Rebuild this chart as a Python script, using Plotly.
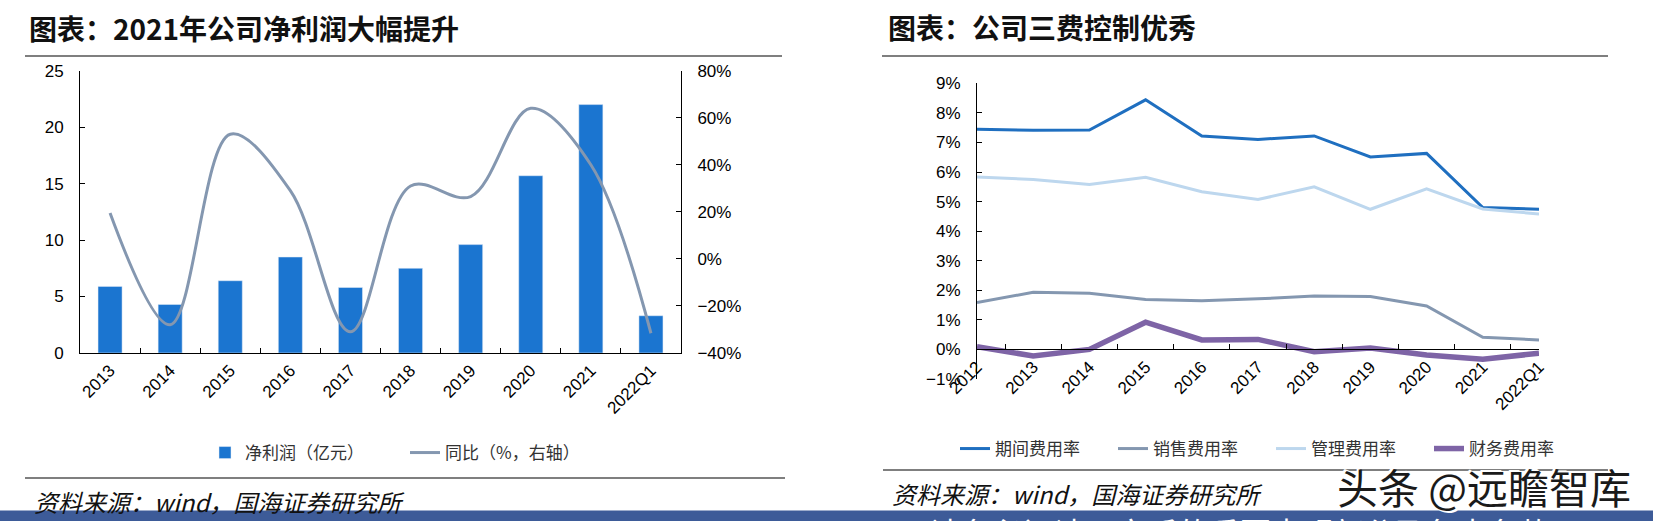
import plotly.graph_objects as go

W, H = 1653, 521

# left chart data
years_np = ['2013', '2014', '2015', '2016', '2017', '2018', '2019', '2020', '2021', '2022Q1']
net_profit = [5.9, 4.3, 6.4, 8.5, 5.8, 7.5, 9.6, 15.7, 22.0, 3.3]
yoy = [0.195, -0.28, 0.53, 0.29, -0.31, 0.31, 0.265, 0.64, 0.40, -0.316]

# right chart data
years_fee = ['2012', '2013', '2014', '2015', '2016', '2017', '2018', '2019', '2020', '2021', '2022Q1']
period_fee = [0.0745, 0.0741, 0.0742, 0.0844, 0.0722, 0.0710, 0.0722, 0.0651, 0.0663, 0.0480, 0.0474]
sales_fee = [0.0159, 0.0193, 0.0190, 0.0169, 0.0165, 0.0171, 0.0181, 0.0179, 0.0147, 0.0041, 0.0032]
admin_fee = [0.0583, 0.0575, 0.0558, 0.0582, 0.0533, 0.0507, 0.0550, 0.0474, 0.0543, 0.0475, 0.0458]
finance_fee = [0.0009, -0.0022, 0.0000, 0.0092, 0.0032, 0.0034, -0.0008, 0.0005, -0.0019, -0.0033, -0.0013]

titles = ['图表：2021年公司净利润大幅提升', '图表：公司三费控制优秀']
source = '资料来源：wind，国海证券研究所'

CJK = 'Noto Sans CJK SC'
NUM = 'Liberation Sans, Arial, sans-serif'


def px(x):
    return x / W


def py(y):
    return (H - y) / H


fig = go.Figure()

fig.add_trace(go.Bar(
    x=years_np, y=net_profit, name='净利润（亿元）',
    marker_color='#1B75D0', xaxis='x', yaxis='y', legend='legend'
))
fig.add_trace(go.Scatter(
    x=years_np, y=yoy, name='同比（%，右轴）', mode='lines',
    line=dict(color='#8497B0', width=3, shape='spline', smoothing=1.0),
    xaxis='x', yaxis='y2', legend='legend'
))

fee_series = [
    ('期间费用率', period_fee, '#1F6FC0', 3),
    ('销售费用率', sales_fee, '#8497B0', 3),
    ('管理费用率', admin_fee, '#BDD7EE', 3),
    ('财务费用率', finance_fee, '#7E64A6', 5.5),
]
for name, vals, color, lw in fee_series:
    fig.add_trace(go.Scatter(
        x=years_fee, y=vals, name=name, mode='lines',
        line=dict(color=color, width=lw),
        xaxis='x3', yaxis='y3', legend='legend2'
    ))

axis_common = dict(showline=True, linecolor='#000000', linewidth=1, showgrid=False,
                   zeroline=False, ticks='inside', ticklen=5, tickcolor='#000000',
                   automargin=False,
                   tickfont=dict(family=NUM, size=17, color='#000000'))

fig.update_layout(
    width=W, height=H,
    margin=dict(l=0, r=0, t=0, b=0, autoexpand=False),
    paper_bgcolor='white', plot_bgcolor='rgba(0,0,0,0)',
    bargap=0.6,
    xaxis=dict(domain=[px(80), px(681)], anchor='y', tickson='boundaries',
               tickangle=-45, **axis_common),
    yaxis=dict(domain=[py(353), py(70.7)], anchor='x', range=[0, 25], dtick=5,
               ticklabelstandoff=12, **axis_common),
    yaxis2=dict(overlaying='y', side='right', anchor='x', range=[-0.4, 0.8], dtick=0.2,
                tickformat='.0%', ticklabelstandoff=12, **axis_common),
    xaxis3=dict(domain=[px(977), px(1539)], anchor='free', position=py(349.4),
                tickson='boundaries', tickangle=-45, **axis_common),
    yaxis3=dict(domain=[py(379), py(83.3)], anchor='x3', range=[-0.01, 0.09], dtick=0.01,
                tickformat='.0%', ticklabelstandoff=12, **axis_common),
    legend=dict(orientation='h', x=px(205), y=py(453), xanchor='left', yanchor='middle',
                entrywidth=155, font=dict(family=CJK, size=17, color='#333333'),
                bgcolor='rgba(0,0,0,0)'),
    legend2=dict(orientation='h', x=px(955), y=py(449), xanchor='left', yanchor='middle',
                 entrywidth=113, font=dict(family=CJK, size=17, color='#333333'),
                 bgcolor='rgba(0,0,0,0)'),
    showlegend=True,
)

# rules above / below each chart
rules = [(25, 782, 56), (882, 1608, 56), (25, 785, 478), (883, 1608, 470)]
for x0, x1, y in rules:
    fig.add_shape(type='line', xref='paper', yref='paper', x0=px(x0), x1=px(x1),
                  y0=py(y), y1=py(y), line=dict(color='#555555', width=1.5))

# bottom banner
fig.add_shape(type='rect', xref='paper', yref='paper', x0=0, x1=1, y0=0, y1=py(510.5),
              fillcolor='#3D5B98', line_width=0, layer='below')

fig.add_annotation(text=titles[0], xref='paper', yref='paper', x=px(27), y=py(28),
                   xanchor='left', yanchor='middle', showarrow=False,
                   font=dict(family=CJK, size=28, color='#111111', weight='bold'))
fig.add_annotation(text=titles[1], xref='paper', yref='paper', x=px(886), y=py(27),
                   xanchor='left', yanchor='middle', showarrow=False,
                   font=dict(family=CJK, size=28, color='#111111', weight='bold'))

fig.add_annotation(text=source, xref='paper', yref='paper', x=px(32), y=py(501),
                   xanchor='left', yanchor='middle', showarrow=False,
                   font=dict(family=CJK, size=24, color='#111111', style='italic'))
fig.add_annotation(text=source, xref='paper', yref='paper', x=px(890), y=py(493),
                   xanchor='left', yanchor='middle', showarrow=False,
                   font=dict(family=CJK, size=24, color='#111111', style='italic'))

# watermark
fig.add_annotation(text='头条 @远瞻智库', xref='paper', yref='paper', x=px(1484), y=py(486),
                   xanchor='center', yanchor='middle', showarrow=False,
                   font=dict(family=CJK, size=41, color='#1A1A1A',
                             shadow='2px 2px 0px white, -2px -2px 0px white'))

# banner text, mostly cut off by page edge
fig.add_annotation(text='请务必阅读正文后的重要声明部分及免责条款', xref='paper', yref='paper',
                   x=px(928), y=py(507), xanchor='left', yanchor='top', showarrow=False,
                   font=dict(family=CJK, size=31, color='white'))

# drop the default body margin so the figure sits at the page corner
fig.write_html("out.html", config={'displayModeBar': False},
               post_script="document.body.style.margin='0';document.body.style.overflow='hidden';")
